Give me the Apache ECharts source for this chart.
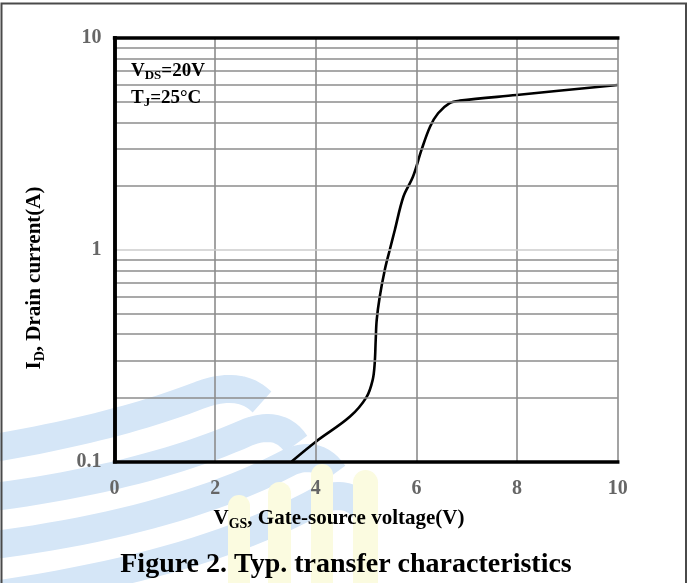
<!DOCTYPE html>
<html>
<head>
<meta charset="utf-8">
<script src="https://cdn.jsdelivr.net/npm/echarts@6/dist/echarts.min.js"></script>
<style>
  html, body { margin: 0; padding: 0; background: #fff; }
  #chart { width: 694px; height: 583px; }
</style>
</head>
<body>
<div id="chart"></div>
<script>
// Transfer characteristic: drain current vs gate-source voltage (VDS = 20 V, TJ = 25 °C)
const vgs = [3.52, 4.00, 4.68, 5.01, 5.13, 5.17, 5.19, 5.21, 5.27, 5.37, 5.47, 5.57, 5.74, 5.93, 6.10, 6.27, 6.43, 6.66, 6.86, 7.99, 10.0];
const drainCurrent = [0.100, 0.124, 0.163, 0.202, 0.243, 0.291, 0.375, 0.466, 0.600, 0.803, 1.00, 1.24, 1.78, 2.21, 2.96, 3.81, 4.41, 4.92, 5.06, 5.38, 6.00];

// Log-axis decade grid
const xTicks = [0, 2, 4, 6, 8, 10];
const yDecades = [0.1, 1, 10];
const yMinorLines = [0.2, 0.3, 0.4, 0.5, 0.6, 0.7, 0.8, 0.9, 2, 3, 4, 5, 6, 7, 8, 9];
const yMidDecade = [1];

const serif = '"Liberation Serif", "DejaVu Serif", serif';
const chart = echarts.init(document.getElementById('chart'));

const frameLine = { lineStyle: { color: '#000', width: 3.5, cap: 'square' } };

// Background emblem: wave bands and pale pillars
const blue = '#d5e6f7';
const yellow = '#fbfbe0';
function quadPoints(p0, c, p1, n) {
  const pts = [];
  for (let i = 0; i <= n; i++) {
    const t = i / n, u = 1 - t;
    pts.push([u * u * p0[0] + 2 * u * t * c[0] + t * t * p1[0],
              u * u * p0[1] + 2 * u * t * c[1] + t * t * p1[1]]);
  }
  return pts;
}
const bands = [
  [[-30, 452], [110, 430], [200, 395], [240, 380], [262, 402]],
  [[-30, 500], [140, 480], [248, 432], [280, 420], [296, 444]],
  [[-30, 548], [170, 525], [290, 462], [318, 450], [334, 474]],
  [[-30, 598], [190, 570], [320, 500], [350, 488], [366, 512]]
];
const emblem = bands.map(b => ({
  type: 'polyline', z: -1, silent: true,
  shape: { points: quadPoints(b[0], b[1], b[2], 24).concat(quadPoints(b[2], b[3], b[4], 12).slice(1)) },
  style: { fill: null, stroke: blue, lineWidth: 28, lineJoin: 'round' }
}));
const pillars = [[228, 495, 22], [268, 482, 23], [311, 464, 22], [353, 470, 25]];
pillars.forEach(([x, y, w]) => emblem.push({
  type: 'rect', z: -1, silent: true,
  shape: { x: x, y: y, width: w, height: 583 - y, r: [w / 2, w / 2, 0, 0] },
  style: { fill: yellow }
}));

function richFor(size) {
  const sub = Math.round(size * 0.68);
  return {
    m: { fontFamily: serif, fontWeight: 'bold', fontSize: size, color: '#000', lineHeight: size + 4 },
    s: { fontFamily: serif, fontWeight: 'bold', fontSize: sub, color: '#000', lineHeight: size + 4, padding: [Math.round(size * 0.5), 0, 0, 0] }
  };
}

chart.setOption({
  backgroundColor: '#fff',
  animation: false,
  grid: { left: 114.6, right: 76.3, top: 38, bottom: 121.5, containLabel: false },
  xAxis: [{
    type: 'value', min: 0, max: 10, interval: 2, z: 5,
    axisLine: frameLine,
    axisTick: { show: false },
    axisLabel: { margin: 17, color: '#666', fontFamily: serif, fontWeight: 'bold', fontSize: 20 },
    splitLine: { show: true, lineStyle: { color: '#8c8c8c', width: 1.6 } }
  }, {
    type: 'value', min: 0, max: 10, position: 'top', z: 5,
    axisLine: frameLine, axisTick: { show: false }, axisLabel: { show: false }, splitLine: { show: false }
  }],
  yAxis: [{
    type: 'log', logBase: 10, min: 0.1, max: 10, z: 5,
    axisLine: frameLine,
    axisTick: { show: false },
    axisLabel: {
      margin: 13, color: '#666', fontFamily: serif, fontWeight: 'bold', fontSize: 20,
      formatter: v => (yDecades.some(d => Math.abs(d - v) < 1e-9) ? String(+(+v).toPrecision(3)) : '')
    },
    splitLine: { show: false }
  }, {
    type: 'log', logBase: 10, min: 0.1, max: 10, position: 'right', z: 5,
    axisLine: frameLine, axisTick: { show: false }, axisLabel: { show: false }, splitLine: { show: false }
  }],
  series: [{
    type: 'line', data: [], silent: true,
    markLine: {
      silent: true, symbol: 'none', label: { show: false },
      lineStyle: { color: '#8c8c8c', width: 1.6, type: 'solid' },
      data: yMinorLines.map(v => ({ yAxis: v }))
        .concat(yMidDecade.map(v => ({ yAxis: v, lineStyle: { color: '#cdcdcd', width: 1.6, type: 'solid' } })))
    }
  }, {
    type: 'line',
    data: vgs.map((v, i) => [v, drainCurrent[i]]),
    smooth: 0.35,
    showSymbol: false,
    clip: true,
    lineStyle: { color: '#000', width: 2.6 }
  }],
  graphic: emblem.concat([
    {
      type: 'rect', z: 20, silent: true,
      shape: { x: 1.5, y: 3.5, width: 684.5, height: 640 },
      style: { fill: null, stroke: '#4a4a4a', lineWidth: 2 }
    },
    {
      type: 'text', z: 20, x: 35, y: 278, rotation: Math.PI / 2,
      style: { text: '{m|I}{s|D}{m|, Drain current(A)}', rich: richFor(21), align: 'center', verticalAlign: 'middle' }
    },
    {
      type: 'text', z: 20, x: 339, y: 519,
      style: { text: '{m|V}{s|GS}{m|, Gate-source voltage(V)}', rich: richFor(21), align: 'center', verticalAlign: 'middle' }
    },
    {
      type: 'text', z: 20, x: 131, y: 71,
      style: { text: '{m|V}{s|DS}{m|=20V}', rich: richFor(19), align: 'left', verticalAlign: 'middle' }
    },
    {
      type: 'text', z: 20, x: 131, y: 98,
      style: { text: '{m|T}{s|J}{m|=25°C}', rich: richFor(19), align: 'left', verticalAlign: 'middle' }
    },
    {
      type: 'text', z: 20, x: 346, y: 565,
      style: {
        text: 'Figure 2. Typ. transfer characteristics',
        font: 'bold 28px ' + serif, fill: '#000', align: 'center', verticalAlign: 'middle'
      }
    }
  ])
});
</script>
</body>
</html>
